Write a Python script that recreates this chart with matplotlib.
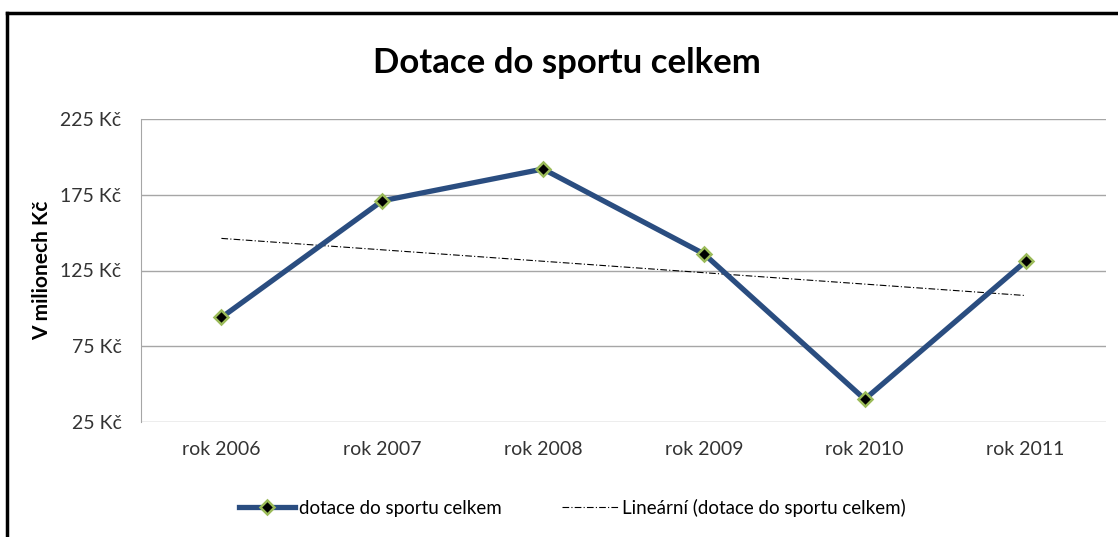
import numpy as np
import matplotlib
matplotlib.use("Agg")
from matplotlib import pyplot as plt

plt.rcParams['font.family'] = ['Lato', 'DejaVu Sans']

# data
years = ['rok 2006', 'rok 2007', 'rok 2008', 'rok 2009', 'rok 2010', 'rok 2011']
dotace = [94, 171, 192, 136, 40, 131]
yticks = [25, 75, 125, 175, 225]

x = np.arange(len(years))
k, q = np.polyfit(x, dotace, 1)
trend = k * x + q

fig = plt.figure(figsize=(11.18, 5.37), dpi=100)
ax = fig.add_axes([141/1118, 1 - 422/537, (1106-141)/1118, (422-119)/537])

# outer frame (only top + left visible in reference)
fig.add_artist(plt.Line2D([7/1118, 1], [1 - 13/537, 1 - 13/537], transform=fig.transFigure, color='black', lw=2.5))
fig.add_artist(plt.Line2D([7/1118, 7/1118], [0, 1 - 13/537], transform=fig.transFigure, color='black', lw=2.5))

for yv in yticks:
    ax.axhline(yv, color='#a6a6a6', lw=1, zorder=0)

ax.plot(x, dotace, color='#2a4d80', lw=3.8, marker='D', markersize=7,
        markerfacecolor='black', markeredgecolor='#9bbb59', markeredgewidth=1.8,
        label='dotace do sportu celkem', zorder=3)
ax.plot(x, trend, color='black', lw=0.8, ls=(0, (6, 2, 1, 2)),
        label='Lineární (dotace do sportu celkem)', zorder=2)

ax.set_xlim(-0.5, len(years) - 0.5)
ax.set_ylim(25, 225)
ax.set_yticks(yticks)
ax.set_yticklabels([f'{v} Kč' for v in yticks], fontsize=14, color='#333333')
ax.set_xticks(x)
ax.set_xticklabels(years, fontsize=14, color='#333333')
ax.tick_params(axis='both', length=0, pad=14)
for s in ['top', 'right', 'bottom']:
    ax.spines[s].set_visible(False)
ax.spines['left'].set_color('#a6a6a6')

ax.set_ylabel('V milionech Kč', fontsize=15, fontweight='bold', labelpad=6)
fig.text(567/1118, 1 - 63/537, 'Dotace do sportu celkem', fontsize=25, fontweight='bold',
         ha='center', va='center')

fig.legend(loc='center', bbox_to_anchor=(572/1118, 1 - 508/537), ncol=2, frameon=False,
           fontsize=13.5, handlelength=3.0, columnspacing=3.2, handletextpad=0.2)

fig.savefig('out.png', dpi=100, facecolor='white')
